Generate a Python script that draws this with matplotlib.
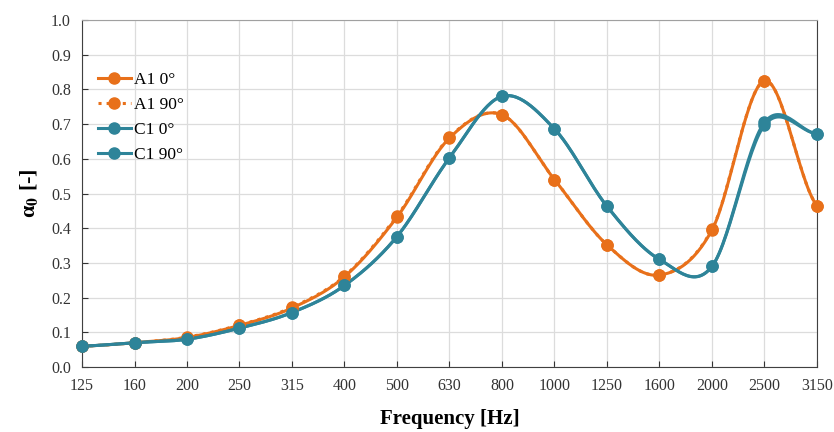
import matplotlib
matplotlib.use("Agg")
import matplotlib.pyplot as plt
import numpy as np

# données
freqs = ["125", "160", "200", "250", "315", "400", "500", "630", "800",
         "1000", "1250", "1600", "2000", "2500", "3150"]
a1_0 = [0.060, 0.070, 0.085, 0.120, 0.170, 0.260, 0.432, 0.660, 0.727,
        0.540, 0.352, 0.265, 0.395, 0.825, 0.465]
a1_90 = [0.060, 0.070, 0.086, 0.121, 0.172, 0.262, 0.435, 0.662, 0.727,
         0.540, 0.352, 0.265, 0.397, 0.825, 0.465]
c1_0 = [0.060, 0.070, 0.080, 0.112, 0.157, 0.235, 0.376, 0.603, 0.780,
        0.686, 0.463, 0.310, 0.290, 0.697, 0.672]
c1_90 = [0.060, 0.070, 0.080, 0.112, 0.157, 0.235, 0.376, 0.603, 0.780,
         0.686, 0.463, 0.310, 0.290, 0.705, 0.672]

orange = "#E8701A"
bleu = "#2E8499"


def lissage(y, n=30):
    # courbe lissée façon Excel (Catmull-Rom)
    y = np.asarray(y, float)
    x = np.arange(len(y), dtype=float)
    xs, ys = [], []
    for i in range(len(y) - 1):
        p0 = y[i - 1] if i > 0 else y[i]
        p3 = y[i + 2] if i + 2 < len(y) else y[i + 1]
        p1, p2 = y[i], y[i + 1]
        t = np.linspace(0, 1, n)
        yy = 0.5 * ((2 * p1) + (-p0 + p2) * t + (2 * p0 - 5 * p1 + 4 * p2 - p3) * t ** 2
                    + (-p0 + 3 * p1 - 3 * p2 + p3) * t ** 3)
        xs.append(x[i] + t)
        ys.append(yy)
    return np.concatenate(xs), np.concatenate(ys)


plt.rcParams['font.family'] = ['Liberation Serif', 'DejaVu Serif']
plt.rcParams['mathtext.fontset'] = 'stix'

fig = plt.figure(figsize=(8.34, 4.32), dpi=100)
ax = fig.add_axes([82 / 834, 65 / 432, 735 / 834, 347 / 432])

x = np.arange(len(freqs))
series = [(a1_0, orange, "-", "A1 0°"),
          (a1_90, orange, ":", "A1 90°"),
          (c1_0, bleu, "-", "C1 0°"),
          (c1_90, bleu, "-", "C1 90°")]
for y, col, ls, lab in series:
    xs, ys = lissage(y)
    ax.plot(xs, ys, color=col, lw=2.2, ls=ls, zorder=3)
    ax.plot(x, y, "o", color=col, ms=8, zorder=4, clip_on=False)
    ax.plot([], [], color=col, lw=2.2, ls=ls, marker="o", ms=8, label=lab)

ax.set_xlim(0, len(freqs) - 1)
ax.set_ylim(0, 1.0)
ax.set_xticks(x)
ax.set_xticklabels(freqs)
ax.set_yticks(np.arange(0, 1.01, 0.1))
ax.set_yticklabels(["%.1f" % v for v in np.arange(0, 1.01, 0.1)])
ax.grid(True, color="#DCDCDC", lw=0.9)
ax.set_axisbelow(True)
ax.tick_params(direction="in", length=4, labelsize=11.5, colors="#333333",
               labelcolor="#333333", pad=8)
for s in ["left", "bottom", "right"]:
    ax.spines[s].set_color("#404040")
ax.spines["top"].set_color("#A0A0A0")

ax.set_xlabel("Frequency [Hz]", fontsize=15, fontweight="bold", labelpad=11)
ax.set_ylabel(r"α$_\mathbf{0}$ [-]", fontsize=16,
              fontweight="bold", labelpad=8)

leg = ax.legend(loc="upper left", bbox_to_anchor=(0.0, 0.895), frameon=False,
                fontsize=12.5, handlelength=1.9, handletextpad=0.2, labelspacing=0.5)

fig.savefig("out.png", dpi=100)
